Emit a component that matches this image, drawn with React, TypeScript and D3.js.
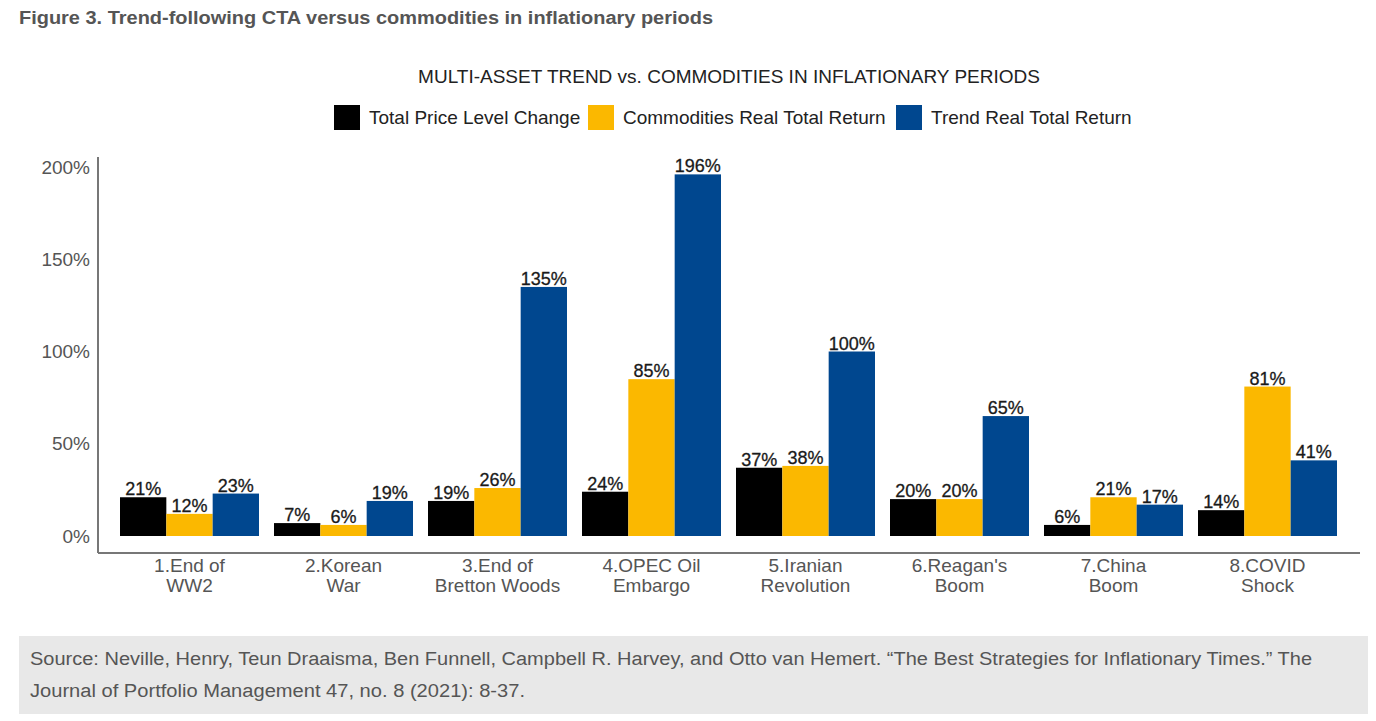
import { useEffect, useRef } from "react";
import { axisLeft, scaleBand, scaleLinear, select } from "d3";

const periods = [
    "1.End of|WW2",
    "2.Korean|War",
    "3.End of|Bretton Woods",
    "4.OPEC Oil|Embargo",
    "5.Iranian|Revolution",
    "6.Reagan's|Boom",
    "7.China|Boom",
    "8.COVID|Shock",
];
const seriesNames = ["Total Price Level Change", "Commodities Real Total Return", "Trend Real Total Return"];
const priceLevel = [21, 7, 19, 24, 37, 20, 6, 14];
const commodities = [12, 6, 26, 85, 38, 20, 21, 81];
const trend = [23, 19, 135, 196, 100, 65, 17, 41];
const yTicks = [0, 50, 100, 150, 200];

const colors = ["#000000", "#FBB800", "#00478F"];
const font = "Liberation Sans, Arial, Helvetica, sans-serif";

const YAxis = ({ scale }: { scale: any }) => {
    const ref = useRef<SVGGElement>(null);
    useEffect(() => {
        if (!ref.current) return;
        const g = select(ref.current);
        g.call(axisLeft(scale).tickValues(yTicks).tickSize(0).tickPadding(8).tickFormat((d: any) => `${d}%`));
        g.select(".domain").remove();
        g.selectAll("text").attr("font-size", 19).attr("font-family", font).attr("fill", "#555");
    }, [scale]);
    return <g ref={ref} transform="translate(98,0)" />;
};

export default function App() {
    const series = [priceLevel, commodities, trend];
    const x = scaleBand<string>()
        .domain(periods)
        .range([112.5, 1344.5])
        .paddingInner(15 / 154)
        .paddingOuter(7.5 / 154);
    const xInner = scaleBand<number>().domain([0, 1, 2]).range([0, x.bandwidth()]);
    const y = scaleLinear().domain([0, 200]).range([536, 167]);

    const legendX = [334, 588, 896];

    return (
        <div style={{ position: "fixed", left: 0, top: 0 }}>
            <svg width={1376} height={721} style={{ display: "block", background: "#fff" }}>
                <text x={19} y={24} fontFamily={font} fontWeight="bold" fontSize={18} fill="#555"
                    textLength={694} lengthAdjust="spacingAndGlyphs">
                    Figure 3. Trend-following CTA versus commodities in inflationary periods
                </text>

                <text x={729} y={83} textAnchor="middle" fontFamily={font} fontSize={19} fill="#222">
                    MULTI-ASSET TREND vs. COMMODITIES IN INFLATIONARY PERIODS
                </text>

                {seriesNames.map((name, i) => (
                    <g key={name}>
                        <rect x={legendX[i]} y={105} width={26} height={25} fill={colors[i]} />
                        <text x={legendX[i] + 35} y={124} fontFamily={font} fontSize={19} fill="#222">{name}</text>
                    </g>
                ))}

                <line x1={98} x2={98} y1={157} y2={553} stroke="#777" strokeWidth={2} />
                <line x1={98} x2={1360} y1={553} y2={553} stroke="#777" strokeWidth={2} />
                <YAxis scale={y} />

                {periods.map((p, pi) => {
                    const gx = x(p) ?? 0;
                    const [l1, l2] = p.split("|");
                    const cx = gx + x.bandwidth() / 2;
                    return (
                        <g key={p}>
                            {series.map((s, si) => (
                                <g key={si}>
                                    <rect
                                        x={gx + (xInner(si) ?? 0)}
                                        y={y(s[pi])}
                                        width={xInner.bandwidth()}
                                        height={y(0) - y(s[pi])}
                                        fill={colors[si]}
                                    />
                                    <text
                                        x={gx + (xInner(si) ?? 0) + xInner.bandwidth() / 2}
                                        y={y(s[pi]) - 2}
                                        textAnchor="middle"
                                        fontFamily={font}
                                        fontSize={18}
                                        fill="#1a1a1a"
                                        stroke="#1a1a1a"
                                        strokeWidth={0.3}
                                    >
                                        {s[pi]}%
                                    </text>
                                </g>
                            ))}
                            <text x={cx} y={572} textAnchor="middle" fontFamily={font} fontSize={19} fill="#555">{l1}</text>
                            <text x={cx} y={592} textAnchor="middle" fontFamily={font} fontSize={19} fill="#555">{l2}</text>
                        </g>
                    );
                })}

                <rect x={19} y={636} width={1349} height={78} fill="#e8e8e8" />
                <text x={30} y={665} fontFamily={font} fontSize={18} fill="#555"
                    textLength={1282} lengthAdjust="spacingAndGlyphs">
                    Source: Neville, Henry, Teun Draaisma, Ben Funnell, Campbell R. Harvey, and Otto van Hemert. “The Best Strategies for Inflationary Times.” The
                </text>
                <text x={30} y={697} fontFamily={font} fontSize={18} fill="#555"
                    textLength={495} lengthAdjust="spacingAndGlyphs">
                    Journal of Portfolio Management 47, no. 8 (2021): 8-37.
                </text>
            </svg>
        </div>
    );
}
